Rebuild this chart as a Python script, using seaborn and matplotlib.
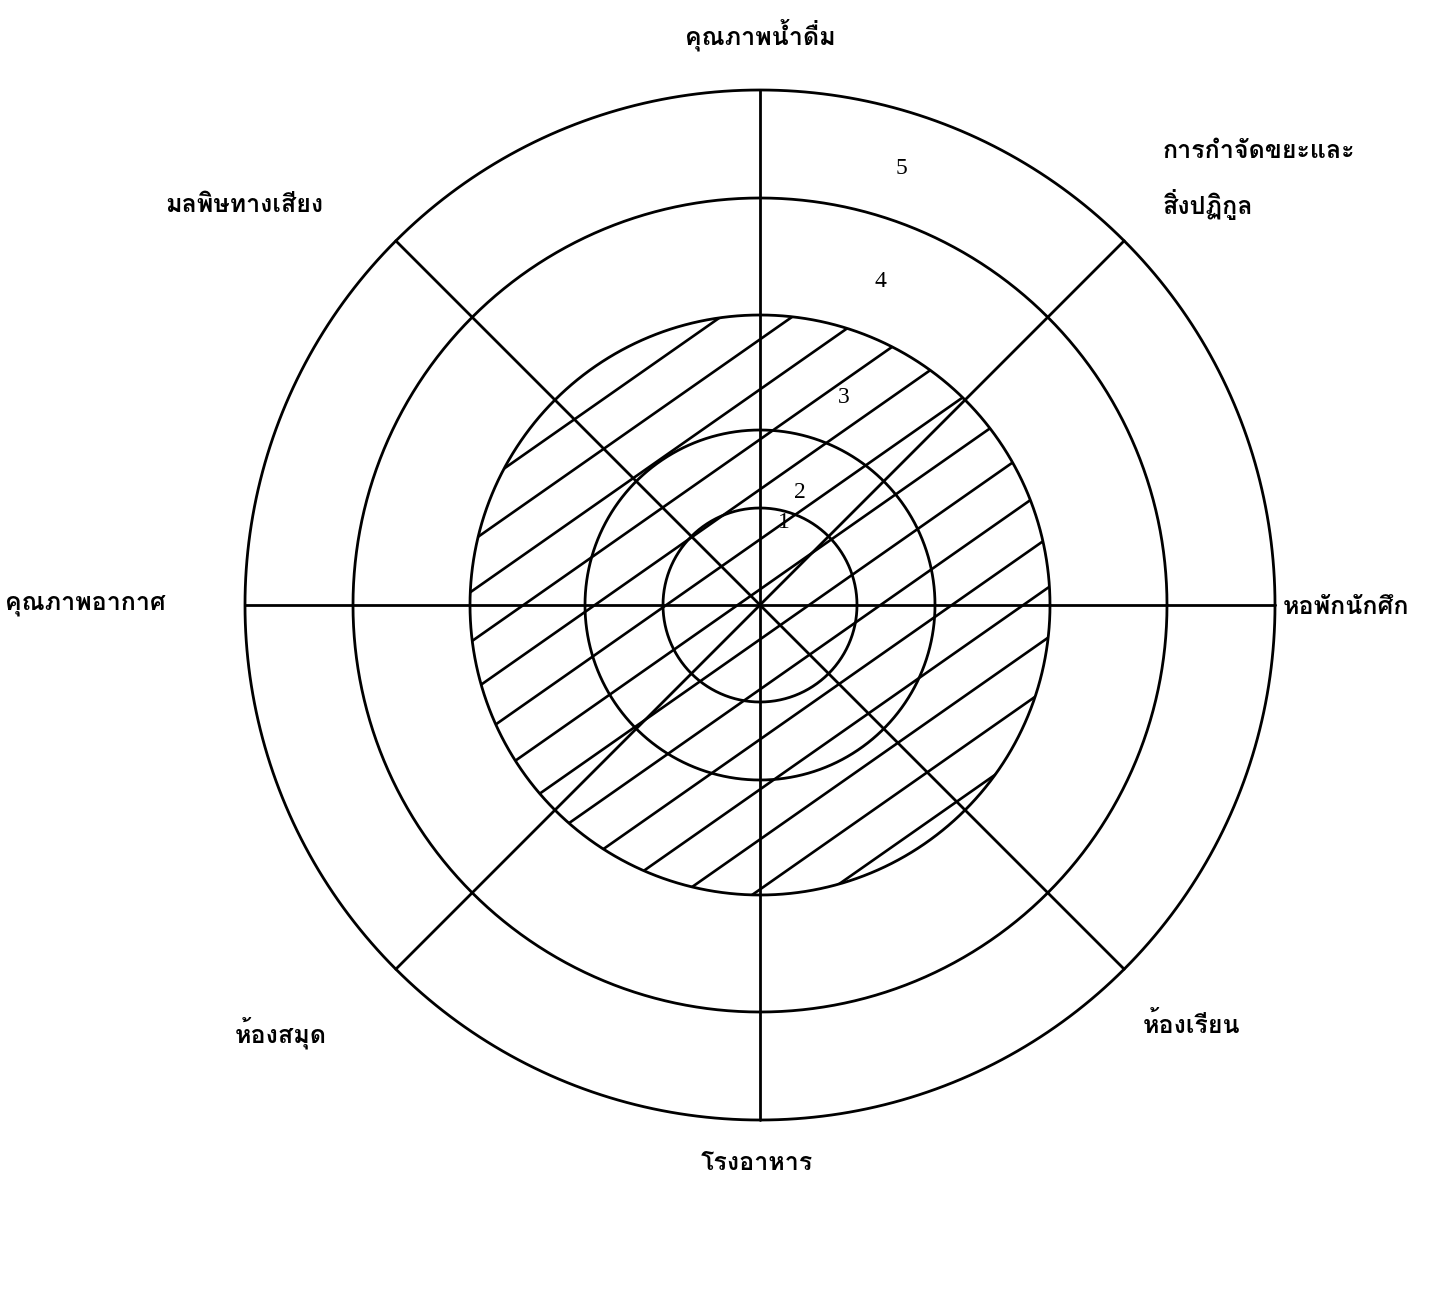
#!/usr/bin/env python3
import numpy as np
import matplotlib
matplotlib.use("Agg")
import matplotlib.pyplot as plt
import seaborn as sns
from matplotlib import font_manager
from matplotlib.collections import LineCollection
from matplotlib.ft2font import FT2Font

# ---- data -------------------------------------------------------------
categories = [
    "หอพักนักศึก",
    "การกำจัดขยะและ\nสิ่งปฏิกูล",
    "คุณภาพน้ำดื่ม",
    "มลพิษทางเสียง",
    "คุณภาพอากาศ",
    "ห้องสมุด",
    "โรงอาหาร",
    "ห้องเรียน",
]
scores = [3, 3, 3, 3, 3, 3, 3, 3]
levels = [1, 2, 3, 4, 5]
level_labels = ["1", "2", "3", "4", "5"]

# radial scale of the drawing (rings are not evenly spaced), in pixels
RING_PX = [0, 97, 175, 290, 407, 515]

W, H, DPI = 1429, 1294, 100
CX, CY = 760, 605


def find_thai_font():
    best = None
    for f in font_manager.fontManager.ttflist:
        try:
            cmap = FT2Font(f.fname).get_charmap()
        except Exception:
            continue
        if 0x0E04 in cmap and 0x0E01 in cmap:
            if f.weight in ("bold", 700) or str(f.weight) == "700":
                return f.name
            best = best or f.name
    return best


sns.set_theme(style="white")
thai = find_thai_font()
families = ([thai] if thai else []) + ["DejaVu Sans"]
plt.rcParams["font.family"] = families


def fx(px):
    return px / W


def fy(py):
    return 1 - py / H


fig = plt.figure(figsize=(W / DPI, H / DPI), dpi=DPI)
R = RING_PX[-1]
ax = fig.add_axes([fx(CX - R), fy(CY + R), 2 * R / W, 2 * R / H], projection="polar")

lv = [0] + levels
ax.set_rscale("function",
              functions=(lambda r: np.interp(r, lv, RING_PX),
                         lambda p: np.interp(p, RING_PX, lv)))
ax.set_rlim(0, levels[-1])
ax.grid(False)
ax.set_xticks([])
ax.set_yticks([])
ax.spines["polar"].set_visible(False)
ax.patch.set_alpha(0)

n = len(categories)
theta = np.arange(n) * 2 * np.pi / n
half = np.pi / n

# outline of the scored sectors (each category owns the sector around its spoke)
out_t, out_r = [], []
for th, s in zip(theta, scores):
    tt = np.linspace(th - half, th + half, 60)
    out_t.extend(tt)
    out_r.extend([s] * len(tt))
region = ax.fill(out_t, out_r, facecolor="none", edgecolor="none")[0]

# sparse diagonal hatching clipped to the region
ang = np.tan(np.radians(35))
step = 50 / (2 * R)
segs = [[(0, c), (1, c + ang)] for c in np.arange(-1.0, 1.0, step)]
lc = LineCollection(segs, colors="black", linewidths=1.9, transform=ax.transAxes)
ax.add_collection(lc, autolim=False)
lc.set_clip_path(region)

# rings
t = np.linspace(0, 2 * np.pi, 721)
for lvl in levels:
    ax.plot(t, np.full_like(t, lvl), color="black", lw=2.0, clip_on=False)

# spokes
for th in theta:
    ax.plot([th, th], [0, levels[-1]], color="black", lw=2.0, clip_on=False)

# level numbers
num_pos = [(74, 0.88), (70.5, 1.29), (68, 2.42), (69.6, 3.47), (72, 4.48)]
for lab, (a, r) in zip(level_labels, num_pos):
    ax.text(np.radians(a), r, lab, fontsize=17, family="Liberation Serif",
            ha="center", va="center", color="black")

# category labels
lab_pos = [
    (1283, 607, "left"),
    (1163, 180, "left"),
    (760, 35, "center"),
    (165, 205, "left"),
    (5, 605, "left"),
    (235, 1033, "left"),
    (757, 1163, "center"),
    (1143, 1025, "left"),
]
for name, (px, py, ha) in zip(categories, lab_pos):
    fig.text(fx(px), fy(py), name, ha=ha, va="center", fontsize=18,
             fontweight="bold", linespacing=2.0, color="black")

fig.savefig("out.png", dpi=DPI)
